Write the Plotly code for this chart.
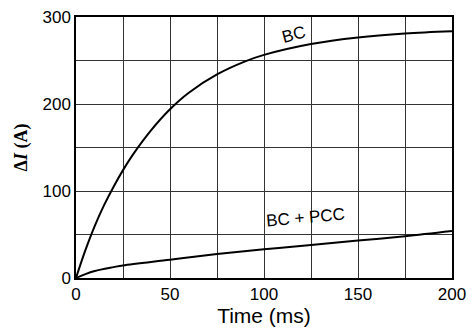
import plotly.graph_objects as go

t_bc = [0, 5, 10, 15, 20, 25, 30, 40, 50, 60, 75, 90, 100, 125, 150, 175, 200]
bc = [0, 32, 60, 84, 105, 124, 141, 170, 194, 213, 234, 249, 256.5, 269, 276.5, 281, 283.5]

t_pcc = [0, 5, 10, 20, 25, 50, 75, 100, 125, 150, 175, 200]
bc_pcc = [0, 4.5, 8, 12.5, 14.5, 21, 27.5, 33, 38, 43, 48, 54]

x_ticks = [0, 50, 100, 150, 200]
y_ticks = [0, 100, 200, 300]

fig = go.Figure()
fig.add_trace(go.Scatter(x=t_bc, y=bc, mode="lines", line=dict(color="black", width=2, shape="spline"), showlegend=False))
fig.add_trace(go.Scatter(x=t_pcc, y=bc_pcc, mode="lines", line=dict(color="black", width=2, shape="spline"), showlegend=False))

font = dict(family="Liberation Sans, Arial, sans-serif", size=17, color="black")

fig.update_layout(
    width=472, height=334,
    margin=dict(l=76, r=20, t=17, b=56),
    plot_bgcolor="white", paper_bgcolor="white",
    font=font,
    xaxis=dict(range=[0, 200], tickvals=x_ticks, showgrid=True, gridcolor="#333333", gridwidth=1,
               showline=True, linecolor="black", linewidth=1.5, mirror=True, ticks="", zeroline=False,
               automargin=False, ticklabelstandoff=0, ticklabeloverflow="allow",
               title=dict(text="Time (ms)", font=dict(size=21), standoff=2),
               minor=dict(dtick=25, showgrid=True, gridcolor="#333333", gridwidth=1)),
    yaxis=dict(range=[0, 300], tickvals=y_ticks, showgrid=True, gridcolor="#333333", gridwidth=1,
               showline=True, linecolor="black", linewidth=1.5, mirror=True, ticks="", zeroline=False,
               automargin=False, ticklabeloverflow="allow",
               title=dict(text="<b>Δ<i>I</i> (A)</b>", font=dict(family="Liberation Serif, Times New Roman, serif", size=18), standoff=10),
               minor=dict(dtick=50, showgrid=True, gridcolor="#333333", gridwidth=1)),
)

fig.add_annotation(x=116, y=280, text="BC", showarrow=False, textangle=-15, font=dict(size=17), xanchor="center", yanchor="middle")
fig.add_annotation(x=122, y=70, text="BC + PCC", showarrow=False, textangle=-5, font=dict(size=17), xanchor="center", yanchor="middle")

fig.write_html("out.html", post_script="document.body.style.margin='0px';", config={"displayModeBar": False})
